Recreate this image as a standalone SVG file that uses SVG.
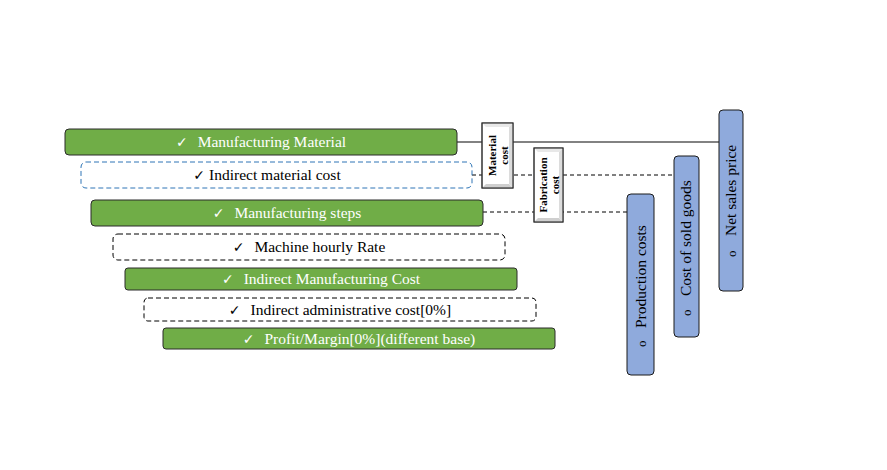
<svg xmlns="http://www.w3.org/2000/svg" width="887" height="470" viewBox="0 0 887 470">
<style>
.g{fill:#70AD47;stroke:#2b2b2b;stroke-width:1}
.bd{fill:#fff;stroke:#2E75B6;stroke-width:1;stroke-dasharray:5,3}
.kd{fill:#fff;stroke:#000;stroke-width:1;stroke-dasharray:5,3}
.b{fill:#8FAADC;stroke:#1a1a1a;stroke-width:1}
.tw{font-family:"Liberation Serif",serif;font-size:15.5px;fill:#fff;text-anchor:middle}
.tk{font-family:"Liberation Serif",serif;font-size:15.5px;fill:#000;text-anchor:middle}
.tb{font-family:"Liberation Serif",serif;font-size:11px;font-weight:bold;fill:#000;text-anchor:middle}
.tv{font-family:"Liberation Serif",serif;font-size:15.5px;fill:#000}
.bl{font-family:"Liberation Serif",serif;font-size:13px;fill:#000}
.ck{font-family:"DejaVu Sans",sans-serif;font-size:14px}
.sol{stroke:#595959;stroke-width:1.5;fill:none}
.dsh{stroke:#000;stroke-width:1;stroke-dasharray:4,3;fill:none}
.bev{fill:#fff;stroke:#333;stroke-width:1}
</style>
<rect width="887" height="470" fill="#fff"/>
<g id="connectors">
<line class="sol" x1="457" y1="142" x2="719" y2="142"/>
<line class="dsh" x1="472" y1="175" x2="674" y2="175"/>
<line class="dsh" x1="483" y1="212" x2="627" y2="212"/>
</g>
<g id="n1"><rect class="g" x="65" y="129" width="392" height="26" rx="4"/><text class="tw" x="261" y="147"><tspan class="ck">✓</tspan><tspan dx="10">Manufacturing Material</tspan></text></g>
<g id="n2"><rect class="bd" x="81" y="162" width="391" height="26" rx="5"/><text class="tk" x="267" y="180"><tspan class="ck">✓</tspan><tspan dx="4">Indirect material cost</tspan></text></g>
<g id="n3"><rect class="g" x="91" y="200" width="392" height="26" rx="4"/><text class="tw" x="287" y="218"><tspan class="ck">✓</tspan><tspan dx="10">Manufacturing steps</tspan></text></g>
<g id="n4"><rect class="kd" x="113" y="234" width="392" height="26" rx="5"/><text class="tk" x="309" y="252"><tspan class="ck">✓</tspan><tspan dx="10">Machine hourly Rate</tspan></text></g>
<g id="n5"><rect class="g" x="125" y="268" width="392" height="22" rx="3"/><text class="tw" x="321" y="284"><tspan class="ck">✓</tspan><tspan dx="10">Indirect Manufacturing Cost</tspan></text></g>
<g id="n6"><rect class="kd" x="144" y="298" width="392" height="23" rx="4"/><text class="tk" x="340" y="315"><tspan class="ck">✓</tspan><tspan dx="10">Indirect administrative cost[0%]</tspan></text></g>
<g id="n7"><rect class="g" x="163" y="328" width="392" height="21" rx="3"/><text class="tw" x="359" y="344"><tspan class="ck">✓</tspan><tspan dx="10">Profit/Margin[0%](different base)</tspan></text></g>
<g id="material-cost">
<rect class="bev" x="482" y="123" width="31" height="65"/>
<polygon fill="#e8e8e8" points="482.5,123.5 512.5,123.5 509,127 486,127"/>
<polygon fill="#cfcfcf" points="482.5,187.5 512.5,187.5 509,184 486,184"/>
<polygon fill="#dcdcdc" points="512.5,123.5 512.5,187.5 509,184 509,127"/>
<rect fill="none" stroke="#333" x="482" y="123" width="31" height="65"/>
<text class="tb" transform="translate(496,155.5) rotate(-90)">Material</text>
<text class="tb" transform="translate(508,155.5) rotate(-90)">cost</text>
</g>
<g id="fabrication-cost">
<rect class="bev" x="534" y="148" width="29" height="74"/>
<polygon fill="#e8e8e8" points="534.5,148.5 562.5,148.5 559,152 538,152"/>
<polygon fill="#cfcfcf" points="534.5,221.5 562.5,221.5 559,218 538,218"/>
<polygon fill="#dcdcdc" points="562.5,148.5 562.5,221.5 559,218 559,152"/>
<rect fill="none" stroke="#333" x="534" y="148" width="29" height="74"/>
<text class="tb" transform="translate(547,185) rotate(-90)">Fabrication</text>
<text class="tb" transform="translate(559,185) rotate(-90)">cost</text>
</g>
<g id="production-costs"><rect class="b" x="627" y="194" width="27" height="181" rx="4"/><text class="bl" transform="translate(646,347) rotate(-90)">o</text><text class="tv" transform="translate(646,328) rotate(-90)">Production costs</text></g>
<g id="cost-of-sold-goods"><rect class="b" x="674" y="156" width="25" height="181" rx="4"/><text class="bl" transform="translate(691,316) rotate(-90)">o</text><text class="tv" transform="translate(691,296) rotate(-90)">Cost of sold goods</text></g>
<g id="net-sales-price"><rect class="b" x="719" y="110" width="24" height="181" rx="4"/><text class="bl" transform="translate(736,257) rotate(-90)">o</text><text class="tv" transform="translate(736,236) rotate(-90)">Net sales price</text></g>
</svg>
